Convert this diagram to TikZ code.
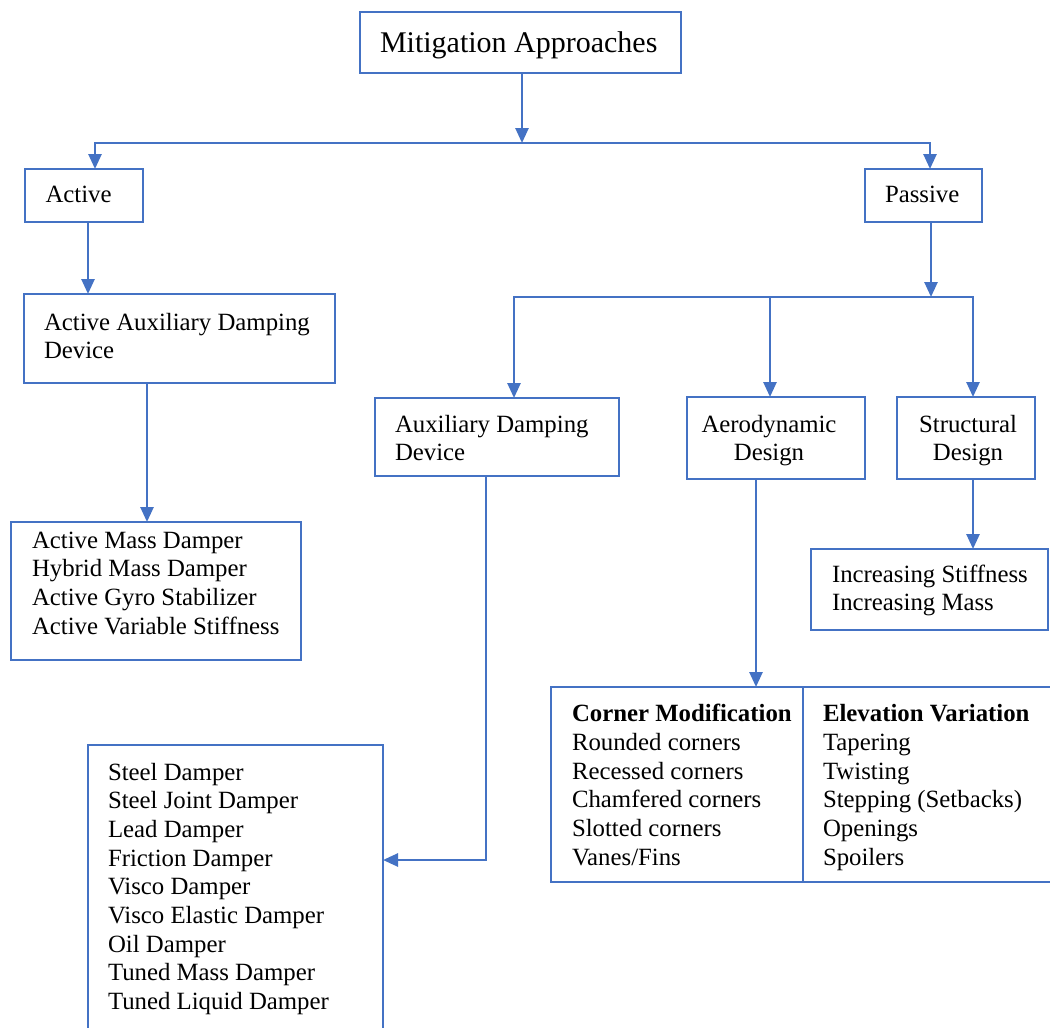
\documentclass[tikz,border=0pt]{standalone}
\usepackage{fontspec}
\setmainfont{Liberation Serif}
\usetikzlibrary{arrows.meta}
\definecolor{lnblue}{HTML}{4472C4}
\newcommand{\firstln}{\rule{0pt}{17.5pt}}
\begin{document}
\begin{tikzpicture}[x=1pt,y=-1pt,
  boxst/.style={draw=lnblue, line width=2.7pt, inner sep=0pt, outer sep=0pt, anchor=north west},
  txt/.style={inner sep=0pt, outer sep=0pt, anchor=north west, align=left, font=\fontsize{24.8}{28.7}\selectfont},
  ctxt/.style={txt, anchor=north, align=center},
  ln/.style={draw=lnblue, line width=2.6pt, line cap=rect},
  arr/.style={ln, -{Triangle[length=15pt,width=13pt]}}]
\clip (0,0) rectangle (1050,1028);
\fill[white] (0,0) rectangle (1050,1028);
% boxes
\node[boxst, minimum width=321pt, minimum height=61pt] (title) at (360,12) {};
\node[boxst, minimum width=118pt, minimum height=53pt] (active) at (25,169) {};
\node[boxst, minimum width=117pt, minimum height=53pt] (passive) at (865,169) {};
\node[boxst, minimum width=311pt, minimum height=89pt] (aad) at (24,294) {};
\node[boxst, minimum width=290pt, minimum height=138pt] (alist) at (11,522) {};
\node[boxst, minimum width=244pt, minimum height=78pt] (aux) at (375,398) {};
\node[boxst, minimum width=178pt, minimum height=82pt] (aero) at (687,397) {};
\node[boxst, minimum width=138pt, minimum height=82pt] (struct) at (897,397) {};
\node[boxst, minimum width=237pt, minimum height=81pt] (incr) at (811,549) {};
\node[boxst, minimum width=252pt, minimum height=195pt] (corner) at (551,687) {};
\node[boxst, minimum width=252pt, minimum height=195pt] (elev) at (803,687) {};
\node[boxst, minimum width=295pt, minimum height=300pt] (bot) at (88,745) {};
% texts
\node[txt, font=\fontsize{30}{34}\selectfont] (ttitle) at (380,30.5) {\rule{0pt}{21.5pt}Mitigation Approaches};
\node[txt] (tactive) at (45.5,184.5) {\firstln Active};
\node[txt] (tpassive) at (885,184.5) {\firstln Passive};
\node[txt] (taad) at (44,312.5) {\firstln Active Auxiliary Damping\\Device};
\node[txt] (taux) at (395,414.5) {\firstln Auxiliary Damping\\Device};
\node[ctxt] (taero) at (769,414.5) {\firstln Aerodynamic\\Design};
\node[ctxt] (tstruct) at (968,414.5) {\firstln Structural\\Design};
\node[txt] (talist) at (32,530.5) {\firstln Active Mass Damper\\Hybrid Mass Damper\\Active Gyro Stabilizer\\Active Variable Stiffness};
\node[txt] (tincr) at (832,564.5) {\firstln Increasing Stiffness\\Increasing Mass};
\node[txt] (tcorner) at (572,704.2) {\firstln\textbf{Corner Modification}\\Rounded corners\\Recessed corners\\Chamfered corners\\Slotted corners\\Vanes/Fins};
\node[txt] (televation) at (823,704.2) {\firstln\textbf{Elevation Variation}\\Tapering\\Twisting\\Stepping (Setbacks)\\Openings\\Spoilers};
\node[txt] (tbot) at (108,762.5) {\firstln Steel Damper\\Steel Joint Damper\\Lead Damper\\Friction Damper\\Visco Damper\\Visco Elastic Damper\\Oil Damper\\Tuned Mass Damper\\Tuned Liquid Damper};
% junction coordinates
\coordinate (j1) at (522,143);
\coordinate (aL) at (95,143);
\coordinate (aR) at (930,143);
\coordinate (a2) at (88,0);
\coordinate (a3) at (147,0);
\coordinate (pj) at (931,297);
\coordinate (pL) at (514,297);
\coordinate (pM) at (770,297);
\coordinate (pR) at (973,297);
\coordinate (b1) at (486,860);
\coordinate (c1) at (756,0);
% connectors
\draw[arr] (j1 |- title.south) -- (j1);
\draw[arr] (aR) -- (aL) -- (aL |- active.north);
\draw[arr] (aR) -- (aR |- passive.north);
\draw[arr] (a2 |- active.south) -- (a2 |- aad.north);
\draw[arr] (a3 |- aad.south) -- (a3 |- alist.north);
\draw[arr] (pj |- passive.south) -- (pj);
\draw[arr] (pR) -- (pL) -- (pL |- aux.north);
\draw[arr] (pM) -- (pM |- aero.north);
\draw[arr] (pR) -- (pR |- struct.north);
\draw[arr] (pR |- struct.south) -- (pR |- incr.north);
\draw[arr] (c1 |- aero.south) -- (c1 |- corner.north);
\draw[arr] (b1 |- aux.south) -- (b1) -- (b1 -| bot.east);
\end{tikzpicture}
\end{document}
